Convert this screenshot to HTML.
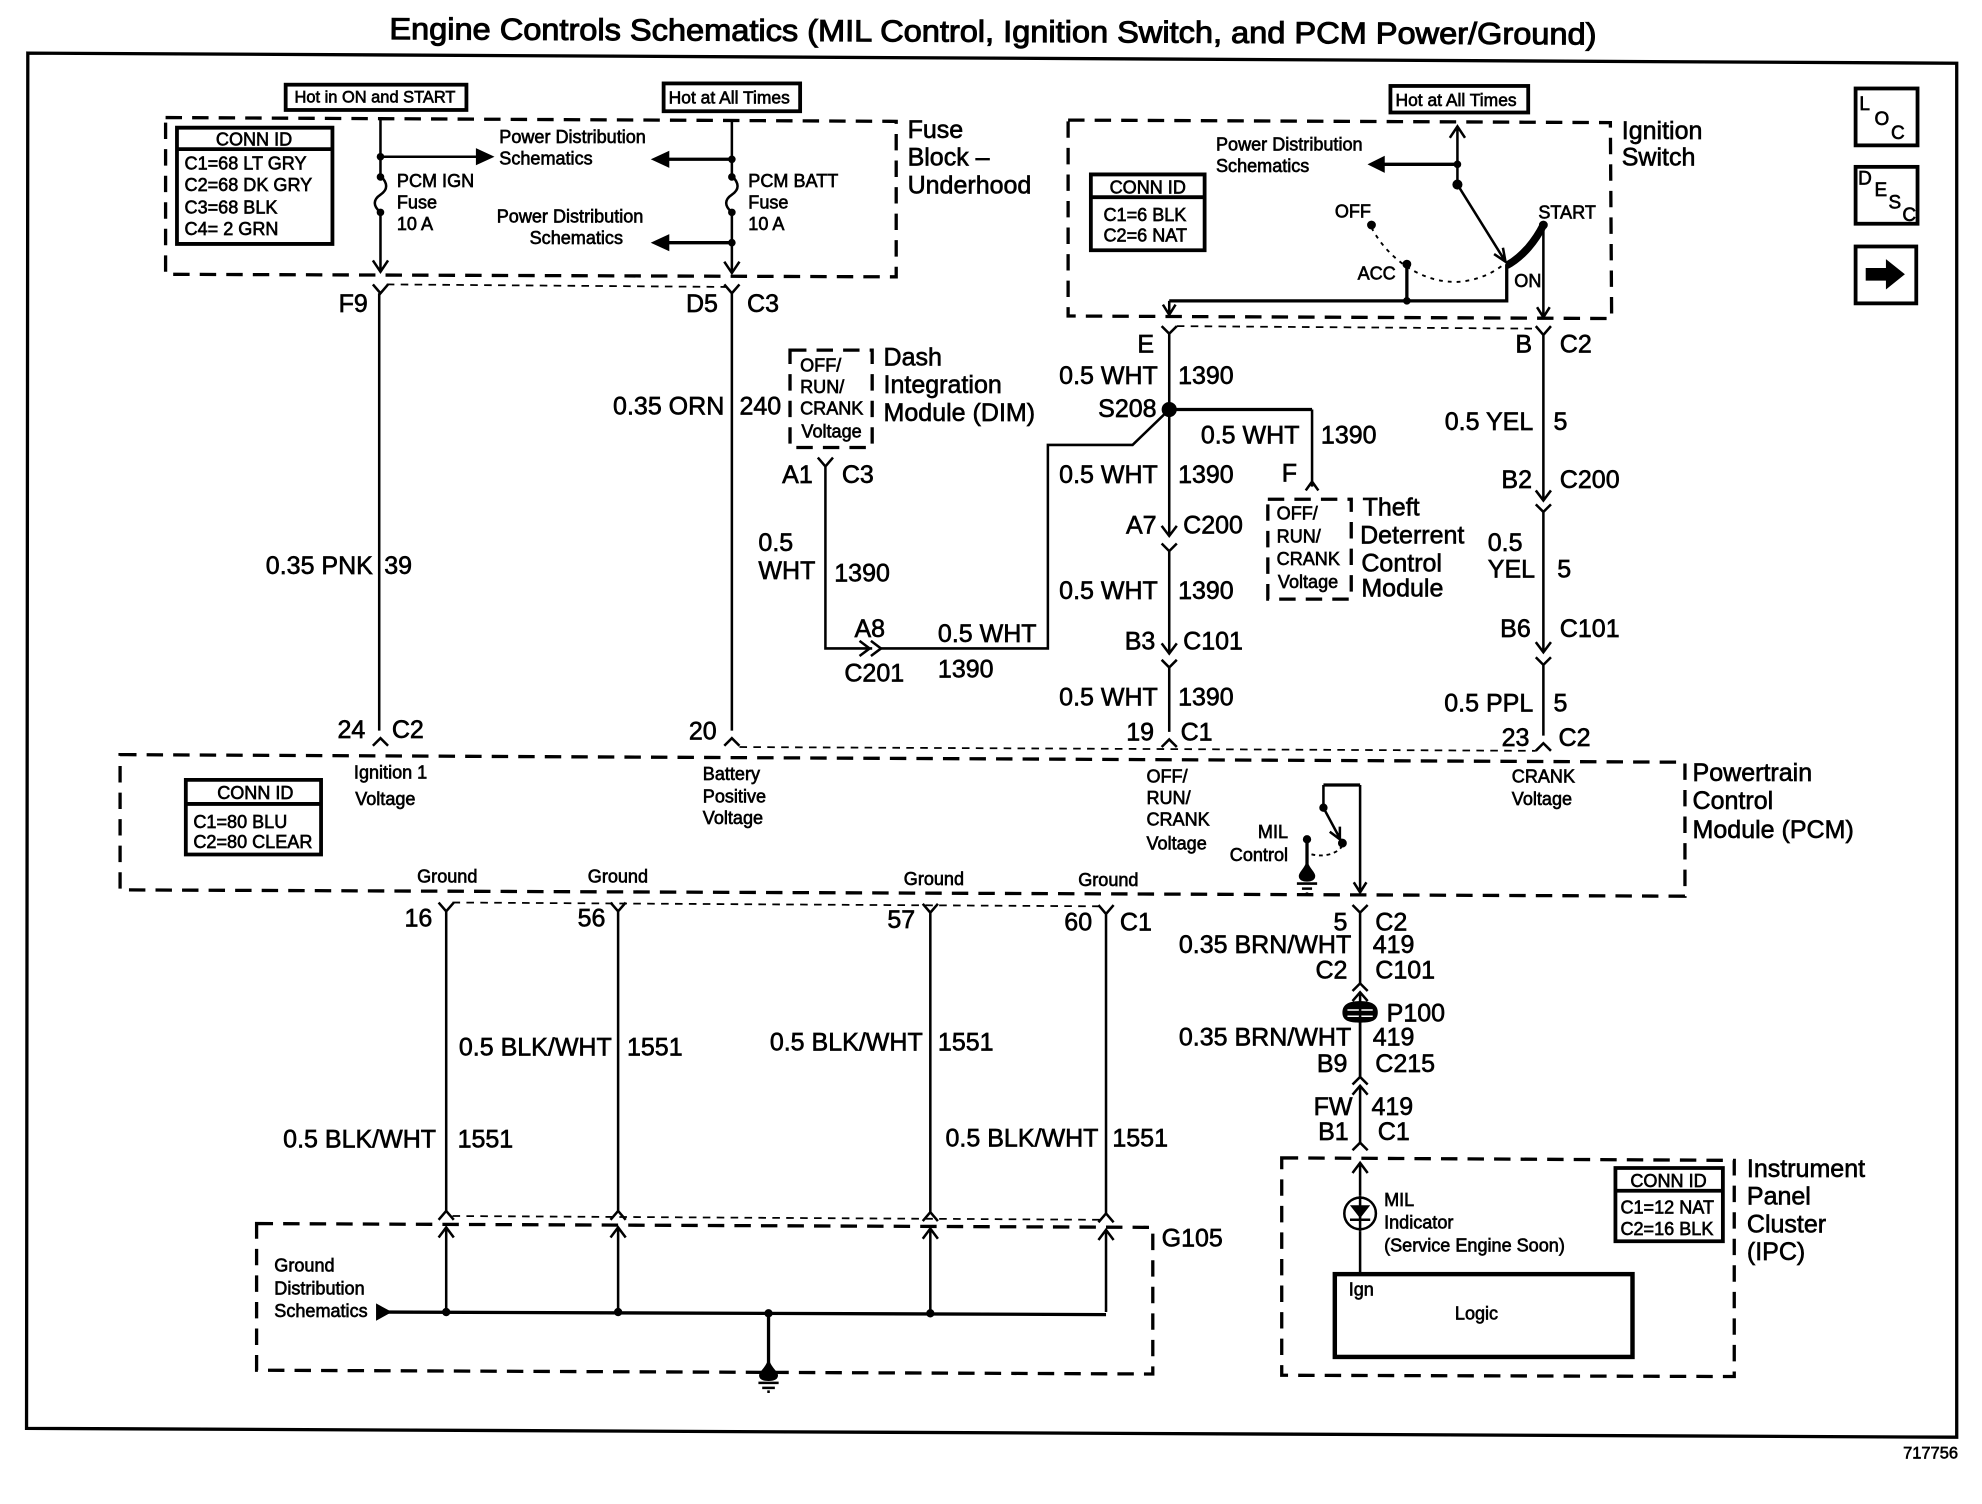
<!DOCTYPE html>
<html><head><meta charset="utf-8"><title>Engine Controls Schematics</title>
<style>
html,body{margin:0;padding:0;background:#fff}
svg{display:block}
text{font-family:"Liberation Sans",sans-serif;fill:#000;stroke:#000;stroke-width:.5}
.b{font-size:19.8px}
.s{font-size:14.3px}
.e{text-anchor:end}
.c{text-anchor:middle}
.w{fill:none;stroke:#000;stroke-width:2}
.t{fill:none;stroke:#000;stroke-width:2.6}
.d{fill:none;stroke:#000;stroke-width:2.6;stroke-dasharray:13 8}
.h{fill:none;stroke:#000;stroke-width:1.4;stroke-dasharray:6 5}
.x{fill:#fff;stroke:#000;stroke-width:3}
.f{fill:#000;stroke:#000;stroke-width:1}
</style></head><body>
<svg width="1982" height="1504" viewBox="0 0 1568 1189.85" preserveAspectRatio="none" xmlns="http://www.w3.org/2000/svg">
<rect width="1568" height="1190" fill="#fff"/>
<text x="308" y="31" font-size="24" textLength="955" lengthAdjust="spacingAndGlyphs" transform="rotate(.25 308 31)" style="stroke-width:.8">Engine Controls Schematics (MIL Control, Ignition Switch, and PCM Power/Ground)</text>
<path d="M22 42L1548 50L1548 1137L21 1130Z" fill="none" stroke="#000" stroke-width="2.6"/>

<!-- dashed modules -->
<path class="d" d="M131 93L709 96L709 219L131 217Z"/>
<path class="d" d="M845 95L1274 97L1275 252L845 250Z"/>
<path class="d" d="M625 277L690 277L690 354L625 354Z"/>
<path class="d" d="M1003 395L1069 395L1069 474L1003 474Z"/>
<path class="d" d="M95 597L1333 603L1333 709L95 704Z"/>
<path class="d" d="M203 968L912 971L912 1087L203 1084Z"/>
<path class="d" d="M1014 916L1372 918L1372 1089L1014 1088Z"/>

<!-- thin dashed connector links -->
<path class="h" d="M306 225L574 227"/>
<path class="h" d="M931 258L1215 260"/>
<path class="h" d="M585 591L1215 594"/>
<path class="h" d="M358 714L870 717"/>
<path class="h" d="M358 962L870 965"/>

<!-- hot boxes -->
<rect class="x" x="226" y="67" width="143" height="20"/>
<rect class="x" x="525" y="66" width="108" height="22"/>
<rect class="x" x="1100" y="68" width="109" height="21"/>

<!-- CONN ID boxes -->
<path class="x" d="M140 101H263V193H140Z M140 118H263"/>
<path class="x" d="M863 138H953V198H863Z M863 156H953"/>
<path class="x" d="M147 617H254V676H147Z M147 636H254"/>
<path class="x" d="M1278 924H1363V982H1278Z M1278 942H1363"/>

<!-- fuse block wires -->
<path class="w" d="M301 93V139M301 168V215M295 206L301 215L307 206"/>
<path class="w" d="M301 139C307 145 307 150 301 154C295 158 295 163 301 168"/>
<path class="w" d="M579 96V139M579 168V216M573 207L579 216L585 207"/>
<path class="w" d="M579 139C585 145 585 150 579 154C573 158 573 163 579 168"/>
<path class="w" d="M295 225L301 232L307 225M300 232V578"/>
<path class="w" d="M295 590L301 584L307 590"/>
<path class="w" d="M573 225L579 232L585 225M579 232V578"/>
<path class="w" d="M573 590L579 584L585 590"/>
<path class="w" d="M301 124H378"/>
<path class="t" d="M579 126H526M579 192H526"/>
<path class="f" d="M390 124L377 118V130ZM516 126L529 120V132ZM516 192L529 186V198Z"/>
<circle class="f" cx="301" cy="124" r="2.5"/><circle class="f" cx="579" cy="126" r="2.5"/><circle class="f" cx="579" cy="192" r="2.5"/>
<circle class="f" cx="301" cy="140" r="2.5"/><circle class="f" cx="301" cy="168" r="2.5"/><circle class="f" cx="579" cy="140" r="2.5"/><circle class="f" cx="579" cy="168" r="2.5"/>

<!-- ignition switch -->
<path class="w" d="M1153 146V100M1147 109L1153 100L1159 109"/>
<path class="t" d="M1153 130H1093"/>
<path class="f" d="M1083 130L1095 124V136Z"/>
<circle class="f" cx="1153" cy="130" r="2.5"/><circle class="f" cx="1153" cy="146" r="3.5"/>
<path class="w" d="M1153 146L1191 207M1189 196L1191 207L1182 201"/>
<path d="M1192 210C1205 203 1215 190 1221 178" fill="none" stroke="#000" stroke-width="6"/>
<circle class="f" cx="1221" cy="178" r="3"/><circle class="f" cx="1085" cy="178" r="3"/><circle class="f" cx="1113" cy="209" r="3"/>
<path d="M1085 180C1098 205 1125 224 1153 223C1170 222 1183 215 1191 208" fill="none" stroke="#000" stroke-width="1.5" stroke-dasharray="3 4"/>
<path class="t" d="M1113 209V238M925 238H1192V209"/>
<circle class="f" cx="1113" cy="238" r="2.5"/>
<path class="w" d="M925 238V249M920 241L925 249L930 241"/>
<path class="w" d="M1221 178V251M1216 243L1221 251L1226 243"/>

<!-- E wire -->
<path class="w" d="M919 258L925 264L931 258M925 264V424M919 416L925 424L931 416"/>
<path class="w" d="M919 430L925 436L931 430M925 436V517M919 509L925 517L931 509"/>
<path class="w" d="M919 522L925 528L931 522M925 528V579M919 591L925 585L931 591"/>
<circle class="f" cx="925" cy="324" r="5.5"/>
<path class="t" d="M925 324H1038"/>
<path class="w" d="M1038 324V385M1033 388L1038 381L1043 388"/>
<path class="w" d="M925 324L896 352H829V513H697"/>
<path class="w" d="M647 362L653 369L659 362M653 369V513H690M680 507L688 513L680 519M689 507L697 513L689 519"/>

<!-- B wire -->
<path class="w" d="M1215 258L1221 265L1227 258M1221 265V396M1215 388L1221 396L1227 388"/>
<path class="w" d="M1215 399L1221 405L1227 399M1221 405V516M1215 508L1221 516L1227 508"/>
<path class="w" d="M1215 520L1221 526L1227 520M1221 526V582M1215 594L1221 588L1227 594"/>

<!-- MIL control -->
<path class="t" d="M1047 621H1076"/>
<path class="w" d="M1076 621V706M1071 698L1076 706L1081 698"/>
<path class="w" d="M1047 621V639L1062 667M1052 658L1060 664L1060 654"/>
<circle class="f" cx="1047" cy="639" r="2.8"/><circle class="f" cx="1062" cy="667" r="3"/><circle class="f" cx="1034" cy="664" r="2.8"/>
<path d="M1062 669C1058 676 1045 679 1035 675" fill="none" stroke="#000" stroke-width="1.5" stroke-dasharray="3 3"/>
<path class="t" d="M1034 664V688"/>
<path class="f" d="M1034 682C1036 688 1040 690 1040 693C1040 696 1037 697 1034 697C1031 697 1028 696 1028 693C1028 690 1032 688 1034 682Z"/>
<path class="w" d="M1026 699H1042M1030 703H1038M1033 707H1035"/>

<!-- lower right wire -->
<path class="w" d="M1070 716L1076 722L1082 716M1076 722V778"/>
<path class="w" d="M1070 784L1076 778L1082 784M1070 792L1076 785L1082 792M1076 785V852"/>
<path d="M1062 801C1062 794 1068 792 1076 792C1084 792 1090 794 1090 801C1090 808 1084 809 1076 809C1068 809 1062 808 1062 801Z" fill="#000"/>
<path d="M1066 799H1086M1066 804H1086" stroke="#fff" stroke-width="1.2"/>
<path class="w" d="M1076 792V852M1070 858L1076 852L1082 858M1070 866L1076 859L1082 866M1076 859V904"/>
<path class="w" d="M1070 910L1076 904L1082 910"/>
<path class="w" d="M1070 928L1076 920L1082 928M1076 920V946M1076 974V1008"/>
<circle cx="1076" cy="960" r="12.5" fill="none" stroke="#000" stroke-width="2"/>
<path class="f" d="M1069 954H1083L1076 963Z"/>
<path class="w" d="M1068 965H1084M1076 946V974"/>
<rect x="1056" y="1008" width="235.500" height="65.500" fill="none" stroke="#000" stroke-width="3.500"/>

<!-- grounds -->
<path class="w" d="M347 714L353 721L359 714M353 721V958M347 965L353 958L359 965"/>
<path class="w" d="M483 714L489 721L495 714M489 721V958M483 965L489 958L495 965"/>
<path class="w" d="M730 715L736 722L742 715M736 722V959M730 966L736 959L742 966"/>
<path class="w" d="M869 716L875 723L881 716M875 723V960M869 967L875 960L881 967"/>
<path class="w" d="M347 979L353 971L359 979M353 971V1038M483 979L489 971L495 979M489 971V1038M730 980L736 972L742 980M736 972V1038M869 981L875 973L881 981M875 973V1038"/>
<path class="t" d="M305 1038L875 1040"/>
<path class="f" d="M298 1032L309 1038L298 1044Z"/>
<circle class="f" cx="353" cy="1038" r="2.8"/><circle class="f" cx="489" cy="1038" r="2.8"/><circle class="f" cx="608" cy="1039" r="2.8"/><circle class="f" cx="736" cy="1039" r="2.8"/>
<path class="t" d="M608 1039V1080"/>
<path class="f" d="M608 1076C610 1083 615 1085 615 1088C615 1091 612 1092 608 1092C604 1092 601 1091 601 1088C601 1085 606 1083 608 1076Z"/>
<path class="w" d="M600 1094H616M603 1098H613M607 1101H609"/>

<!-- side icons -->
<rect class="x" x="1468" y="70" width="49" height="45"/>
<rect class="x" x="1468" y="132" width="49" height="45"/>
<rect class="x" x="1468" y="195" width="48" height="45"/>
<path d="M1476 212H1492V205L1507 217L1492 229V222H1476Z" fill="#000"/>
<g font-size="15"><text x="1471" y="87">L</text><text x="1483" y="99">O</text><text x="1496" y="110">C</text>
<text x="1470" y="146">D</text><text x="1483" y="155">E</text><text x="1494" y="165">S</text><text x="1505" y="175">C</text></g>

<!-- small text -->
<g class="s">
<text x="233" y="81" style="font-size:13px">Hot in ON and START</text>
<text x="529" y="82" style="font-size:13.800px">Hot at All Times</text>
<text x="1104" y="84" style="font-size:13.800px">Hot at All Times</text>
<text x="201" y="115" class="c">CONN ID</text>
<text x="146" y="134">C1=68 LT GRY</text><text x="146" y="151">C2=68 DK GRY</text><text x="146" y="169">C3=68 BLK</text><text x="146" y="186">C4= 2 GRN</text>
<text x="314" y="148">PCM IGN</text><text x="314" y="165">Fuse</text><text x="314" y="182">10 A</text>
<text x="592" y="148">PCM BATT</text><text x="592" y="165">Fuse</text><text x="592" y="182">10 A</text>
<text x="395" y="113">Power Distribution</text><text x="395" y="130">Schematics</text>
<text x="393" y="176">Power Distribution</text><text x="419" y="193">Schematics</text>
<text x="962" y="119">Power Distribution</text><text x="962" y="136">Schematics</text>
<text x="908" y="153" class="c">CONN ID</text><text x="873" y="175">C1=6 BLK</text><text x="873" y="191">C2=6 NAT</text>
<text x="1056" y="172">OFF</text><text x="1217" y="173">START</text><text x="1074" y="221">ACC</text><text x="1198" y="227">ON</text>
<text x="633" y="294">OFF/</text><text x="633" y="311">RUN/</text><text x="633" y="328">CRANK</text><text x="634" y="346">Voltage</text>
<text x="1010" y="411">OFF/</text><text x="1010" y="429">RUN/</text><text x="1010" y="447">CRANK</text><text x="1011" y="465">Voltage</text>
<text x="280" y="616">Ignition 1</text><text x="281" y="637">Voltage</text>
<text x="556" y="617">Battery</text><text x="556" y="635">Positive</text><text x="556" y="652">Voltage</text>
<text x="907" y="619">OFF/</text><text x="907" y="636">RUN/</text><text x="907" y="653">CRANK</text><text x="907" y="672">Voltage</text>
<text x="1196" y="619">CRANK</text><text x="1196" y="637">Voltage</text>
<text x="1019" y="663" class="e">MIL</text><text x="1019" y="681" class="e">Control</text>
<text x="202" y="632" class="c">CONN ID</text><text x="153" y="655">C1=80 BLU</text><text x="153" y="671">C2=80 CLEAR</text>
<text x="330" y="698">Ground</text><text x="465" y="698">Ground</text><text x="715" y="700">Ground</text><text x="853" y="701">Ground</text>
<text x="217" y="1006">Ground</text><text x="217" y="1024">Distribution</text><text x="217" y="1042">Schematics</text>
<text x="1095" y="954">MIL</text><text x="1095" y="972">Indicator</text><text x="1095" y="990">(Service Engine Soon)</text>
<text x="1067" y="1025">Ign</text><text x="1151" y="1044">Logic</text>
<text x="1320" y="939" class="c">CONN ID</text><text x="1282" y="960">C1=12 NAT</text><text x="1282" y="977">C2=16 BLK</text>
<text x="1549" y="1154" class="e" style="font-size:13px">717756</text>
</g>

<!-- large text -->
<g class="b">
<text x="718" y="109">Fuse</text><text x="718" y="131">Block –</text><text x="718" y="153">Underhood</text>
<text x="291" y="247" class="e">F9</text><text x="568" y="247" class="e">D5</text><text x="591" y="247">C3</text>
<text x="573" y="328" class="e">0.35 ORN</text><text x="585" y="328">240</text>
<text x="295" y="454" class="e">0.35 PNK</text><text x="304" y="454">39</text>
<text x="699" y="289">Dash</text><text x="699" y="311">Integration</text><text x="699" y="333">Module (DIM)</text>
<text x="643" y="382" class="e">A1</text><text x="666" y="382">C3</text>
<text x="600" y="436">0.5</text><text x="600" y="458">WHT</text><text x="660" y="460">1390</text>
<text x="676" y="504">A8</text><text x="742" y="508">0.5 WHT</text><text x="668" y="539">C201</text><text x="742" y="536">1390</text>
<text x="289" y="584" class="e">24</text><text x="310" y="584">C2</text><text x="567" y="585" class="e">20</text>
<text x="913" y="279" class="e">E</text><text x="916" y="304" class="e">0.5 WHT</text><text x="932" y="304">1390</text>
<text x="915" y="330" class="e">S208</text><text x="950" y="351">0.5 WHT</text><text x="1045" y="351">1390</text>
<text x="1014" y="381">F</text><text x="916" y="382" class="e">0.5 WHT</text><text x="932" y="382">1390</text>
<text x="915" y="422" class="e">A7</text><text x="936" y="422">C200</text>
<text x="916" y="474" class="e">0.5 WHT</text><text x="932" y="474">1390</text>
<text x="914" y="514" class="e">B3</text><text x="936" y="514">C101</text>
<text x="916" y="558" class="e">0.5 WHT</text><text x="932" y="558">1390</text>
<text x="913" y="586" class="e">19</text><text x="934" y="586">C1</text>
<text x="1078" y="408">Theft</text><text x="1076" y="430">Deterrent</text><text x="1077" y="452">Control</text><text x="1077" y="472">Module</text>
<text x="1212" y="279" class="e">B</text><text x="1234" y="279">C2</text>
<text x="1213" y="340" class="e">0.5 YEL</text><text x="1229" y="340">5</text>
<text x="1212" y="386" class="e">B2</text><text x="1234" y="386">C200</text>
<text x="1177" y="436">0.5</text><text x="1177" y="457">YEL</text><text x="1232" y="457">5</text>
<text x="1211" y="504" class="e">B6</text><text x="1234" y="504">C101</text>
<text x="1213" y="563" class="e">0.5 PPL</text><text x="1229" y="563">5</text>
<text x="1210" y="590" class="e">23</text><text x="1233" y="590">C2</text>
<text x="1283" y="110">Ignition</text><text x="1283" y="131">Switch</text>
<text x="1339" y="618">Powertrain</text><text x="1339" y="640">Control</text><text x="1339" y="663">Module (PCM)</text>
<text x="342" y="733" class="e">16</text><text x="479" y="733" class="e">56</text><text x="724" y="734" class="e">57</text><text x="864" y="736" class="e">60</text><text x="886" y="736">C1</text>
<text x="484" y="835" class="e">0.5 BLK/WHT</text><text x="496" y="835">1551</text>
<text x="730" y="831" class="e">0.5 BLK/WHT</text><text x="742" y="831">1551</text>
<text x="345" y="908" class="e">0.5 BLK/WHT</text><text x="362" y="908">1551</text>
<text x="869" y="907" class="e">0.5 BLK/WHT</text><text x="880" y="907">1551</text>
<text x="1066" y="736" class="e">5</text><text x="1088" y="736">C2</text>
<text x="1069" y="754" class="e">0.35 BRN/WHT</text><text x="1086" y="754">419</text>
<text x="1066" y="774" class="e">C2</text><text x="1088" y="774">C101</text>
<text x="1097" y="808">P100</text>
<text x="1069" y="827" class="e">0.35 BRN/WHT</text><text x="1086" y="827">419</text>
<text x="1066" y="848" class="e">B9</text><text x="1088" y="848">C215</text>
<text x="1070" y="882" class="e">FW</text><text x="1085" y="882">419</text>
<text x="1067" y="902" class="e">B1</text><text x="1090" y="902">C1</text>
<text x="1382" y="931">Instrument</text><text x="1382" y="953">Panel</text><text x="1382" y="975">Cluster</text><text x="1382" y="997">(IPC)</text>
<text x="919" y="986">G105</text>
</g>
</svg>
</body></html>
